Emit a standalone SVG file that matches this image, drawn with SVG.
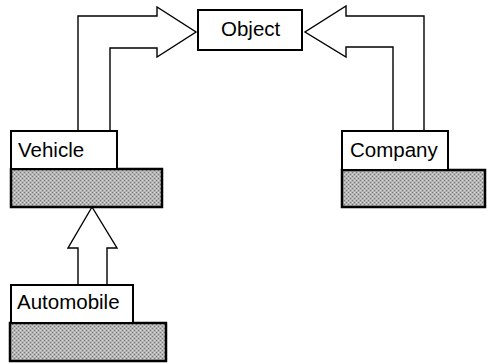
<svg xmlns="http://www.w3.org/2000/svg" width="487" height="363" viewBox="0 0 487 363">
<style>
.box{fill:#fff;stroke:#000;stroke-width:2}
.shade{fill:url(#stip);stroke:#000;stroke-width:2.5}
.arrow{fill:#fff;stroke:#000;stroke-width:1.4;stroke-linejoin:miter}
.lbl{font-family:"Liberation Sans",Arial,sans-serif;font-size:20.5px;fill:#000}
</style>
<defs>
<pattern id="stip" width="4" height="4" patternUnits="userSpaceOnUse">
<rect width="4" height="4" fill="#b4b4b4"/>
<rect x="0" y="0" width="1" height="1" fill="#7a7a7a"/>
<rect x="2" y="2" width="1" height="1" fill="#7a7a7a"/>
<rect x="2" y="0" width="1" height="1" fill="#dadada"/>
<rect x="0" y="2" width="1" height="1" fill="#dadada"/>
</pattern>
</defs>
<g id="connectors">
<path class="arrow" d="M78,131 V16 H157 V7 L196,32 L157,57 V48 H110 V131"/>
<path class="arrow" d="M424,131 V16 H346 V6 L305,32 L346,57 V47 H393 V131"/>
<path class="arrow" d="M78,285 V248 H68 L92,207 L117,248 H107 V285"/>
</g>
<g id="object">
<rect class="box" x="198" y="10" width="104" height="40"/>
<text class="lbl" x="221" y="36">Object</text>
</g>
<g id="vehicle">
<rect class="shade" x="11" y="169" width="151" height="38"/>
<rect class="box" x="11" y="131" width="106" height="38"/>
<text class="lbl" x="18" y="157">Vehicle</text>
</g>
<g id="company">
<rect class="shade" x="342" y="170" width="143" height="37"/>
<rect class="box" x="342" y="131" width="106" height="39"/>
<text class="lbl" x="350" y="157">Company</text>
</g>
<g id="automobile">
<rect class="shade" x="10" y="323" width="156" height="38"/>
<rect class="box" x="11" y="285" width="122" height="38"/>
<text class="lbl" x="17" y="309">Automobile</text>
</g>
</svg>
